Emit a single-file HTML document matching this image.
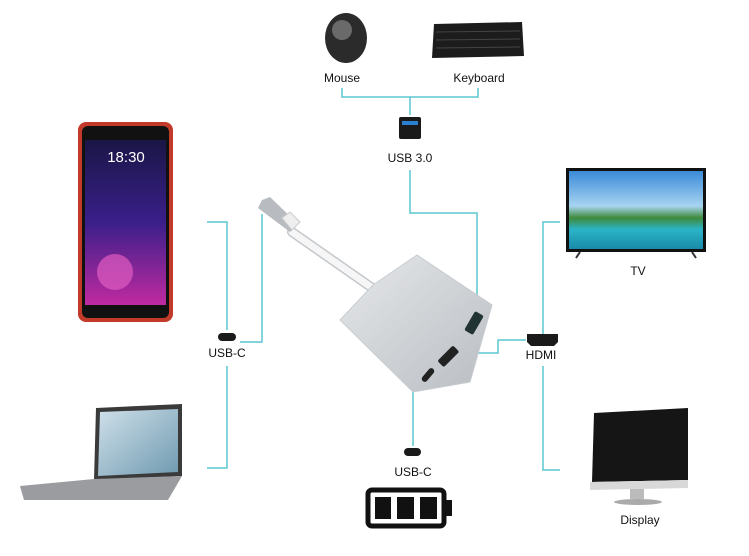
<!DOCTYPE html>
<html><head><meta charset="utf-8"><style>
html,body{margin:0;padding:0;background:#fff;}
svg{display:block}
text{font-family:"Liberation Sans",Arial,sans-serif;font-size:12px;fill:#111;text-anchor:middle}
</style></head><body>
<svg width="749" height="556" viewBox="0 0 749 556" xmlns="http://www.w3.org/2000/svg">
<defs>
<linearGradient id="hub" x1="0" y1="0" x2="1" y2="1"><stop offset="0" stop-color="#e6e8ea"/><stop offset="1" stop-color="#b9bdc2"/></linearGradient>
<linearGradient id="scr" x1="0" y1="0" x2="0" y2="1"><stop offset="0" stop-color="#1a1646"/><stop offset="0.5" stop-color="#3a1f8a"/><stop offset="1" stop-color="#c02aa0"/></linearGradient>
<linearGradient id="tv" x1="0" y1="0" x2="0" y2="1"><stop offset="0" stop-color="#3a8ad8"/><stop offset="0.45" stop-color="#a8d4f0"/><stop offset="0.6" stop-color="#3e8a3a"/><stop offset="0.75" stop-color="#2ab4c8"/><stop offset="1" stop-color="#1a8aa8"/></linearGradient>
<linearGradient id="lap" x1="0" y1="0" x2="1" y2="1"><stop offset="0" stop-color="#cfe0ea"/><stop offset="1" stop-color="#6f9ab0"/></linearGradient>
</defs>
<g stroke="#5cc6d0" stroke-width="1.5" fill="none">
<polyline points="342,88 342,97 478,97 478,88"/>
<line x1="410" y1="97" x2="410" y2="115"/>
<polyline points="410,170 410,213 477,213 477,317"/>
<polyline points="207,222 227,222 227,330"/>
<polyline points="227,366 227,468 207,468"/>
<polyline points="240,342 262,342 262,214"/>
<polyline points="560,222 543,222 543,335"/>
<polyline points="453,353 498,353 498,340 526,340"/>
<polyline points="543,366 543,470 560,470"/>
<line x1="413" y1="392" x2="413" y2="446"/>
</g>
<!-- mouse -->
<ellipse cx="346" cy="38" rx="21" ry="25" fill="#2b2b2b"/>
<ellipse cx="342" cy="30" rx="10" ry="10" fill="#6a6a6a"/>
<!-- keyboard -->
<polygon points="434,24 522,22 524,56 432,58" fill="#1c1c1c"/>
<g stroke="#444" stroke-width="1"><line x1="436" y1="32" x2="520" y2="31"/><line x1="436" y1="40" x2="520" y2="39"/><line x1="436" y1="48" x2="520" y2="47"/></g>
<text x="342" y="82">Mouse</text>
<text x="479" y="82">Keyboard</text>
<!-- usb icon -->
<rect x="399" y="117" width="22" height="22" rx="2" fill="#1a1a1a"/>
<rect x="402" y="121" width="16" height="4" fill="#2a7fd0"/>
<text x="410" y="162">USB 3.0</text>
<!-- phone -->
<rect x="78" y="122" width="95" height="200" rx="8" fill="#c23b2a"/>
<rect x="82" y="126" width="87" height="192" rx="6" fill="#111"/>
<rect x="85" y="140" width="81" height="165" fill="url(#scr)"/>
<circle cx="115" cy="272" r="18" fill="#e05cc0" opacity="0.7"/>
<text x="126" y="162" style="fill:#fff;font-size:15px">18:30</text>
<!-- laptop -->
<polygon points="96,408 182,404 182,476 94,480" fill="#3a3a3a"/>
<polygon points="100,412 178,409 178,472 98,476" fill="url(#lap)"/>
<polygon points="20,486 94,479 182,476 168,500 24,500" fill="#9a9ca0"/>
<!-- usb-c icons -->
<rect x="218" y="333" width="18" height="8" rx="4" fill="#1a1a1a"/>
<text x="227" y="357">USB-C</text>
<rect x="404" y="448" width="17" height="8" rx="4" fill="#1a1a1a"/>
<text x="413" y="476">USB-C</text>
<!-- hdmi -->
<polygon points="527,334 558,334 558,342 554,346 531,346 527,342" fill="#1a1a1a"/>
<text x="541" y="359">HDMI</text>
<!-- cable + hub -->
<line x1="292" y1="232" x2="378" y2="292" stroke="#c4c8cc" stroke-width="10" stroke-linecap="round"/>
<line x1="292" y1="232" x2="378" y2="292" stroke="#f6f6f6" stroke-width="7" stroke-linecap="round"/>
<polygon points="262,200 270,197 298,224 290,232 258,208" fill="#b8bcc0"/>
<polygon points="282,218 290,212 300,222 292,230" fill="#eee" stroke="#ccc"/>
<polygon points="340,320 373,285 417,255 492,305 470,382 413,392" fill="url(#hub)" stroke="#c8ccd0"/>
<rect x="463" y="318" width="22" height="10" rx="2" transform="rotate(-60 474 323)" fill="#233"/>
<rect x="437" y="352" width="22" height="9" rx="2" transform="rotate(-45 448 356)" fill="#222"/>
<rect x="420" y="372" width="16" height="6" rx="3" transform="rotate(-50 428 375)" fill="#222"/>
<!-- tv -->
<rect x="566" y="168" width="140" height="84" fill="#111"/>
<rect x="569" y="171" width="134" height="78" fill="url(#tv)"/>
<line x1="580" y1="252" x2="576" y2="258" stroke="#333" stroke-width="2"/>
<line x1="692" y1="252" x2="696" y2="258" stroke="#333" stroke-width="2"/>
<text x="638" y="275">TV</text>
<!-- display -->
<polygon points="594,413 688,408 688,480 592,482" fill="#151515"/>
<polygon points="590,482 688,480 688,488 590,490" fill="#d8d8d8"/>
<rect x="630" y="489" width="14" height="10" fill="#bbb"/>
<ellipse cx="638" cy="502" rx="24" ry="3" fill="#aaa"/>
<text x="640" y="524">Display</text>
<!-- battery -->
<rect x="368" y="490" width="76" height="36" rx="4" fill="none" stroke="#111" stroke-width="5"/>
<rect x="444" y="500" width="8" height="16" fill="#111"/>
<rect x="375" y="497" width="16" height="22" fill="#111"/>
<rect x="397" y="497" width="17" height="22" fill="#111"/>
<rect x="420" y="497" width="17" height="22" fill="#111"/>
</svg>
</body></html>
